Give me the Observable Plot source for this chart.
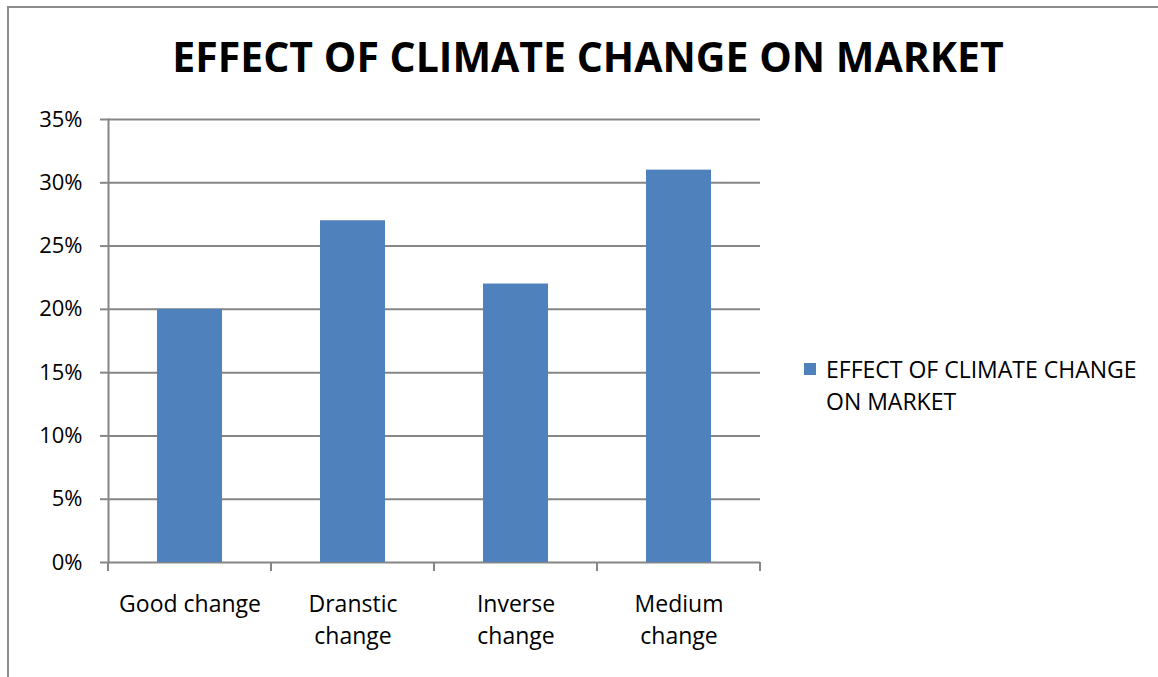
<!DOCTYPE html>
<html>
<head>
<meta charset="utf-8">
<script src="https://cdn.jsdelivr.net/npm/d3@7"></script>
<script src="https://cdn.jsdelivr.net/npm/@observablehq/plot@0.6"></script>
<style>
  html, body { margin: 0; padding: 0; background: #fff; }
  #wrap { position: relative; width: 1158px; height: 677px; overflow: hidden; font-family: "Open Sans", sans-serif; }
  #frame { position: absolute; left: 7px; top: 6px; width: 1200px; height: 700px; border-left: 2px solid #8c8c8c; border-top: 2px solid #8c8c8c; }
  #title { position: absolute; left: 0; width: 1176px; top: 28px; text-align: center; font-weight: 700; font-size: 41px; color: #000; }
  #legend { position: absolute; left: 804px; top: 353px; font-size: 23px; line-height: 32px; color: #000; }
  #legend .sw { position: absolute; left: 0; top: 10px; width: 12px; height: 12px; background: #4f81bd; }
  #legend .tx { position: absolute; left: 22px; top: 0; white-space: nowrap; }
  #chart { position: absolute; left: 0; top: 0; }
</style>
</head>
<body>
<div id="wrap">
  <div id="frame"></div>
  <div id="chart"></div>
  <div id="title"></div>
  <div id="legend"><div class="sw"></div><div class="tx"></div></div>
</div>
<script>
const titleText = "EFFECT OF CLIMATE CHANGE ON MARKET";
const seriesName = "EFFECT OF CLIMATE CHANGE\nON MARKET";
const categories = ["Good change", "Dranstic change", "Inverse change", "Medium change"];
const categoryLabels = ["Good change", "Dranstic\nchange", "Inverse\nchange", "Medium\nchange"];
const values = [0.20, 0.27, 0.22, 0.31];
const yTicks = [0, 0.05, 0.10, 0.15, 0.20, 0.25, 0.30, 0.35];

document.getElementById("title").textContent = titleText;
document.querySelector("#legend .tx").innerHTML = seriesName.split("\n").join("<br>");

const data = categories.map((c, i) => ({category: c, value: values[i]}));
const labelOf = new Map(categories.map((c, i) => [c, categoryLabels[i]]));
const grid = "#868686";

// category boundary ticks below the x axis
function boundaryTicks(index, scales, values, dimensions) {
  const x = scales.x;
  const bw = x.bandwidth();
  const y0 = dimensions.height - dimensions.marginBottom;
  const xs = categories.map(c => x(c));
  xs.push(x(categories[categories.length - 1]) + bw);
  const g = d3.create("svg:g");
  g.selectAll("line").data(xs).join("line")
    .attr("x1", d => d).attr("x2", d => d)
    .attr("y1", y0).attr("y2", y0 + 9)
    .attr("stroke", grid).attr("stroke-width", 2);
  return g.node();
}

const chart = Plot.plot({
  width: 1158,
  height: 677,
  marginTop: 119,
  marginBottom: 115,
  marginLeft: 108,
  marginRight: 398,
  style: {fontFamily: "'Open Sans', sans-serif", fontSize: "22px", color: "#000", background: "transparent"},
  x: {domain: categories, padding: 0, label: null},
  y: {domain: [0, 0.35], label: null},
  marks: [
    Plot.ruleY(yTicks, {stroke: grid, strokeWidth: 2, strokeOpacity: 1}),
    Plot.axisY({ticks: yTicks, tickFormat: d => Math.round(d * 100) + "%", tickSize: 8, tickPadding: 18, stroke: grid, strokeWidth: 2, strokeOpacity: 1, fontSize: 22, fill: "#000", label: null}),
    Plot.axisX({tickSize: 0, tickPadding: 27, tickFormat: d => labelOf.get(d), fontSize: 23, fill: "#000", lineHeight: 1.39, label: null}),
    Plot.barY(data, {x: "category", y: "value", fill: "#4f81bd", insetLeft: 49, insetRight: 49}),
    Plot.frame({anchor: "left", stroke: grid, strokeWidth: 2}),
    boundaryTicks
  ]
});
document.getElementById("chart").appendChild(chart);
</script>
</body>
</html>
